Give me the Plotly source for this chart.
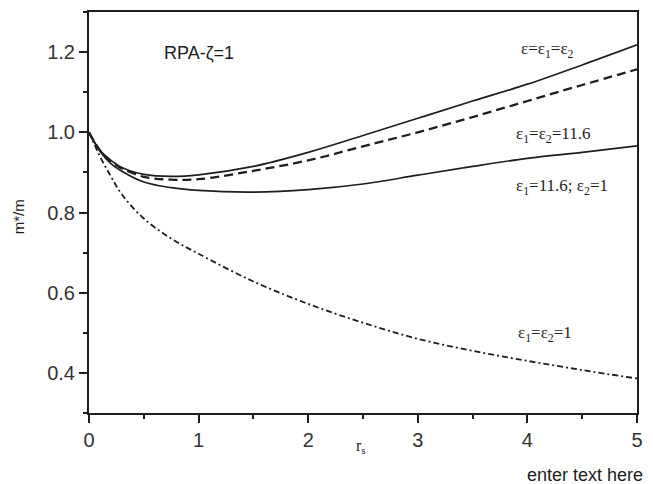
import plotly.graph_objects as go

r_s = [0, 0.1, 0.2, 0.3, 0.5, 0.75, 1.0, 1.5, 2.0, 2.5, 3.0, 3.5, 4.0, 4.5, 5.0]
eps_equal = [1.0, 0.955, 0.93, 0.912, 0.895, 0.89, 0.894, 0.915, 0.95, 0.992, 1.035, 1.078, 1.12, 1.168, 1.218]
eps_11_6 = [1.0, 0.955, 0.928, 0.91, 0.889, 0.882, 0.883, 0.904, 0.93, 0.965, 1.0, 1.038, 1.078, 1.118, 1.157]
eps_mixed = [1.0, 0.953, 0.922, 0.903, 0.876, 0.862, 0.855, 0.851, 0.857, 0.871, 0.893, 0.915, 0.935, 0.95, 0.966]
eps_one = [1.0, 0.94, 0.89, 0.845, 0.785, 0.735, 0.697, 0.628, 0.572, 0.525, 0.485, 0.455, 0.43, 0.407, 0.386]

x_ticks = [0, 1, 2, 3, 4, 5]
y_ticks = [0.4, 0.6, 0.8, 1.0, 1.2]
y_tick_labels = ["0.4", "0.6", "0.8", "1.0", "1.2"]

ink = "#1e1e1e"
sans = "Liberation Sans, Arial, sans-serif"
serif_family = "Liberation Serif, Times New Roman, serif"

fig = go.Figure()
fig.add_trace(go.Scatter(x=r_s, y=eps_equal, mode="lines", line=dict(color=ink, width=1.7, shape="spline")))
fig.add_trace(go.Scatter(x=r_s, y=eps_11_6, mode="lines", line=dict(color=ink, width=2.3, dash="9px,5px", shape="spline")))
fig.add_trace(go.Scatter(x=r_s, y=eps_mixed, mode="lines", line=dict(color=ink, width=1.7, shape="spline")))
fig.add_trace(go.Scatter(x=r_s, y=eps_one, mode="lines", line=dict(color=ink, width=1.8, dash="6px,3px,2px,3px", shape="spline")))

serif = dict(family=serif_family, size=17, color=ink)
labels = [
    (3.92, 1.205, "ε=ε<sub>1</sub>=ε<sub>2</sub>"),
    (3.88, 0.993, "ε<sub>1</sub>=ε<sub>2</sub>=11.6"),
    (3.88, 0.863, "ε<sub>1</sub>=11.6; ε<sub>2</sub>=1"),
    (3.9, 0.498, "ε<sub>1</sub>=ε<sub>2</sub>=1"),
]
for lx, ly, txt in labels:
    fig.add_annotation(x=lx, y=ly, xref="x", yref="y", text=txt, showarrow=False,
                       xanchor="left", yanchor="middle", font=serif)
fig.add_annotation(x=0.67, y=1.199, xref="x", yref="y", text="RPA-ζ=1", showarrow=False,
                   xanchor="left", yanchor="middle", font=dict(family=sans, size=18, color=ink))
fig.add_annotation(x=1.015, y=-0.155, xref="paper", yref="paper", text="enter text here", showarrow=False,
                   xanchor="right", yanchor="middle", font=dict(family=sans, size=18, color=ink))
fig.add_annotation(x=0.497, y=-0.084, xref="paper", yref="paper", text="r<sub>s</sub>", showarrow=False,
                   xanchor="center", yanchor="middle", font=dict(family=serif_family, size=16, color=ink))
fig.add_annotation(x=-0.128, y=0.49, xref="paper", yref="paper", text="m*/m", showarrow=False,
                   textangle=-90, xanchor="center", yanchor="middle", font=dict(family=sans, size=15, color=ink))

axis_common = dict(showline=True, linecolor=ink, linewidth=2, mirror=True, showgrid=False, zeroline=False,
                   ticks="outside", ticklen=8, tickwidth=1.5, tickcolor=ink,
                   tickfont=dict(family=sans, size=20, color="#333"))
fig.update_xaxes(range=[0, 5], tickvals=x_ticks,
                 minor=dict(dtick=0.5, ticks="outside", ticklen=4, tickwidth=1.5, tickcolor=ink),
                 **axis_common)
fig.update_yaxes(range=[0.3, 1.3], tickvals=y_ticks, ticktext=y_tick_labels,
                 minor=dict(dtick=0.1, ticks="outside", ticklen=4, tickwidth=1.5, tickcolor=ink),
                 **axis_common)
fig.update_layout(width=653, height=484, margin=dict(l=89, r=10, t=10, b=71),
                  paper_bgcolor="white", plot_bgcolor="white", showlegend=False)
fig.write_html("out.html")
